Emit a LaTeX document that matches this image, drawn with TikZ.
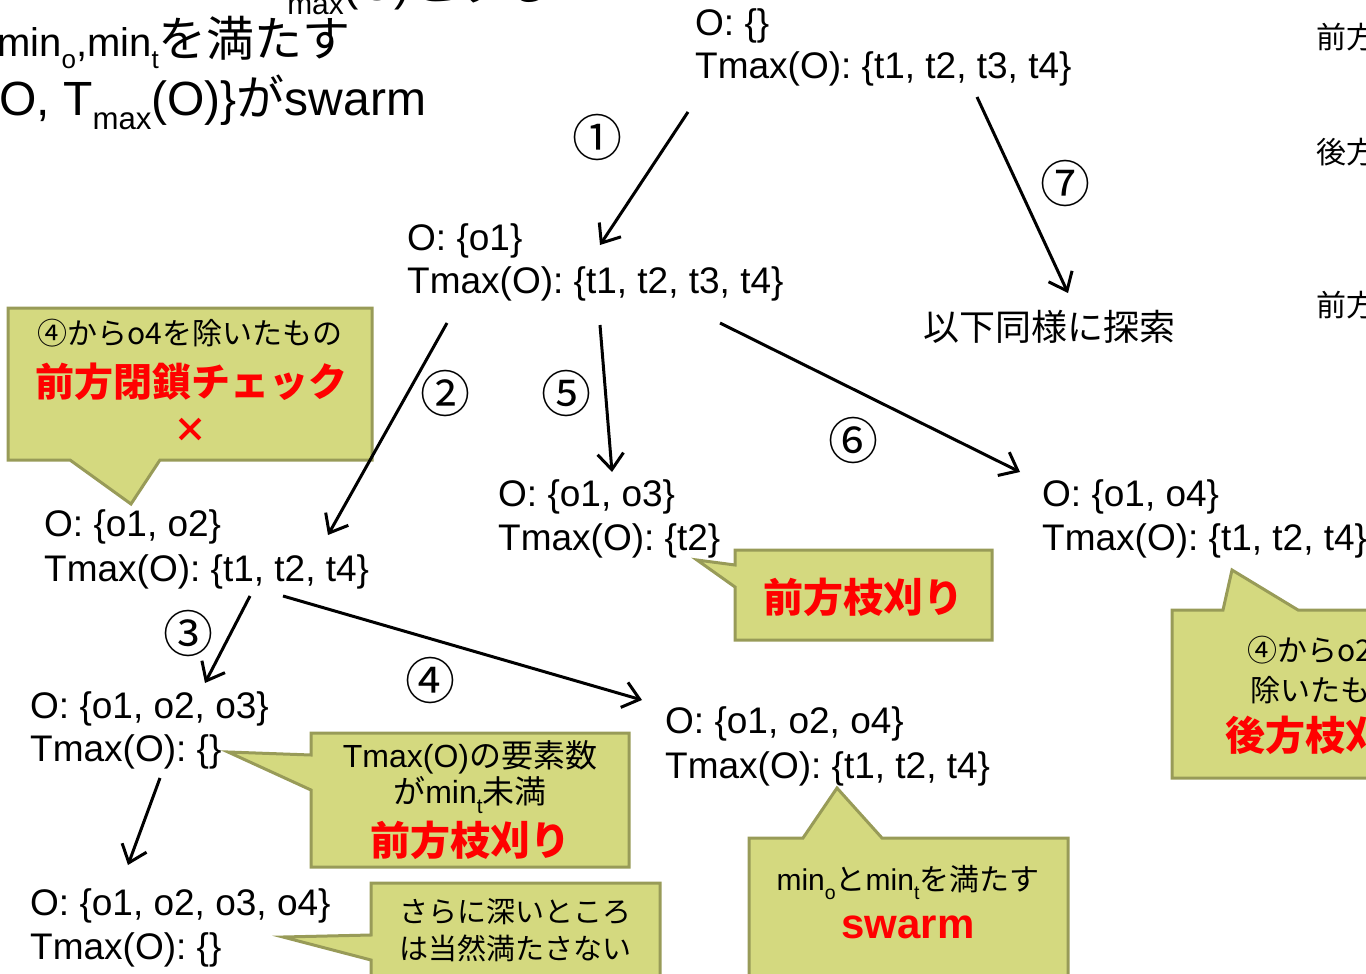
\documentclass[tikz,border=0pt]{standalone}
\usepackage{fontspec}
\setmainfont{Liberation Sans}
\newfontfamily\jp{Noto Sans CJK JP}
\usetikzlibrary{arrows.meta}
\definecolor{cfill}{RGB}{212,217,127}
\definecolor{cdraw}{RGB}{152,155,88}
\definecolor{cred}{RGB}{255,0,0}
\newcommand{\fs}[1]{\fontsize{#1}{#1}\selectfont}
\newcommand{\lsub}[1]{\raisebox{-0.3em}{\scalebox{0.65}{#1}}}
\begin{document}
\begin{tikzpicture}[x=1pt,y=-1pt,
  tt/.style={anchor=base west, inner sep=0pt, font=\fs{37}},
  num/.style={inner sep=0pt, font=\jp\fs{50}},
  call/.style={fill=cfill, draw=cdraw, line width=3pt, line join=miter},
  ctext/.style={inner sep=0pt, font=\jp\fs{30}},
  cred/.style={inner sep=0pt, font=\jp\bfseries\fs{40}, text=cred},
  arr/.style={line width=3pt, -{Straight Barb[length=16pt,width=26pt,line width=3pt]}},
  ]
\useasboundingbox (0,0) rectangle (1366,974);
\clip (0,0) rectangle (1366,974);

% top-left text
\node[anchor=base west, inner sep=0pt, font=\fs{46}] (tl1) at (259,1) {T\lsub{max}(O){\jp\fs{48}とする}};
\node[anchor=base west, inner sep=0pt, font=\fs{40}] (tl2) at (-3,57) {min\lsub{o},min\lsub{t}{\jp\fs{48}を満たす}};
\node[anchor=base west, inner sep=0pt, font=\fs{48}] (tl3) at (-17,115) {\{O, T\lsub{max}(O)\}{\jp\fs{48}が}swarm};

% right edge fragments
\node[anchor=west, ctext] (rt1) at (1316,37) {前方};
\node[anchor=west, ctext] (rt2) at (1316,152) {後方};
\node[anchor=west, ctext] (rt3) at (1316,305) {前方};

% callouts
\draw[call] (8,308) -- (372,308) -- (372,460) -- (160,460) -- (131,504) -- (70,460) -- (8,460) -- cycle;
\draw[call] (735,550) -- (992,550) -- (992,640) -- (735,640) -- (735,587) -- (697,560) -- (735,565) -- cycle;
\draw[call] (311,733) -- (629,733) -- (629,867) -- (311,867) -- (311,790) -- (228,752) -- (311,755) -- cycle;
\draw[call] (371,883) -- (660,883) -- (660,990) -- (371,990) -- (371,960) -- (283,937) -- (371,935) -- cycle;
\draw[call] (749,838) -- (803,838) -- (837,788) -- (882,838) -- (1068,838) -- (1068,990) -- (749,990) -- cycle;
\draw[call] (1172,610) -- (1223,610) -- (1232,570) -- (1298,610) -- (1480,610) -- (1480,778) -- (1172,778) -- cycle;

% callout texts
\node[ctext] (ca1) at (190,333) {④からo4を除いたもの};
\node[cred, font=\jp\bfseries\fs{39}] (ca2) at (191,382) {前方閉鎖チェック};
\node[cred, font=\jp\bfseries\fs{34}] (ca3) at (190,430) {×};
\node[cred] (cb1) at (863,597) {前方枝刈り};
\node[ctext, font=\fs{32}] (cc1) at (470,757) {Tmax(O){\jp の要素数}};
\node[ctext, font=\fs{32}] (cc2) at (470,795) {{\jp が}min\lsub{t}{\jp 未満}};
\node[cred] (cc3) at (470,840) {前方枝刈り};
\node[ctext, font=\jp\fs{29}] (cd1) at (515,912) {さらに深いところ};
\node[ctext, font=\jp\fs{29}] (cd2) at (515,948) {は当然満たさない};
\node[ctext, font=\fs{30}] (ce1) at (908,882) {min\lsub{o}{\jp と}min\lsub{t}{\jp を満たす}};
\node[inner sep=0pt, font=\bfseries\fs{42}, text=cred] (ce2) at (908,927) {swarm};
\node[ctext] (cf1) at (1325,650) {④からo2を};
\node[ctext] (cf2) at (1325,690) {除いたもの};
\node[cred] (cf3) at (1325,735) {後方枝刈り};

% tree nodes
\node[tt] (r1) at (695,36) {O: \{\}};
\node[tt] (r2) at (695,79) {Tmax(O): \{t1, t2, t3, t4\}};
\node[tt] (n1a) at (407,250) {O: \{o1\}};
\node[tt] (n1b) at (407,293) {Tmax(O): \{t1, t2, t3, t4\}};
\node[anchor=west, inner sep=0pt, font=\jp\fs{36}] (etc) at (923,327) {以下同様に探索};
\node[tt] (n12a) at (44,536) {O: \{o1, o2\}};
\node[tt] (n12b) at (44,581) {Tmax(O): \{t1, t2, t4\}};
\node[tt] (n13a) at (498,506) {O: \{o1, o3\}};
\node[tt] (n13b) at (498,550) {Tmax(O): \{t2\}};
\node[tt] (n14a) at (1042,506) {O: \{o1, o4\}};
\node[tt] (n14b) at (1042,550) {Tmax(O): \{t1, t2, t4\}};
\node[tt] (n123a) at (30,718) {O: \{o1, o2, o3\}};
\node[tt] (n123b) at (30,761) {Tmax(O): \{\}};
\node[tt] (n124a) at (665,733) {O: \{o1, o2, o4\}};
\node[tt] (n124b) at (665,778) {Tmax(O): \{t1, t2, t4\}};
\node[tt] (n1234a) at (30,915) {O: \{o1, o2, o3, o4\}};
\node[tt] (n1234b) at (30,959) {Tmax(O): \{\}};

% arrow end points
\coordinate (s1) at (688,112); \coordinate (e1) at (600,245);
\coordinate (s2) at (447,323); \coordinate (e2) at (328,535);
\coordinate (s3) at (250,596); \coordinate (e3) at (205,683);
\coordinate (s4) at (283,596); \coordinate (e4) at (642,700);
\coordinate (s5) at (600,325); \coordinate (e5) at (612,472);
\coordinate (s6) at (720,323); \coordinate (e6) at (1020,472);
\coordinate (s7) at (977,97);  \coordinate (e7) at (1068,293);
\coordinate (s8) at (160,778); \coordinate (e8) at (128,865);
\draw[arr] (s1) -- (e1);
\draw[arr] (s2) -- (e2);
\draw[arr] (s3) -- (e3);
\draw[arr] (s4) -- (e4);
\draw[arr] (s5) -- (e5);
\draw[arr] (s6) -- (e6);
\draw[arr] (s7) -- (e7);
\draw[arr] (s8) -- (e8);

% step numbers
\node[num] (k1) at (597,137) {①};
\node[num] (k2) at (445,393) {②};
\node[num] (k3) at (188,633) {③};
\node[num] (k4) at (430,680) {④};
\node[num] (k5) at (566,393) {⑤};
\node[num] (k6) at (853,440) {⑥};
\node[num] (k7) at (1065,183) {⑦};
\end{tikzpicture}
\end{document}
